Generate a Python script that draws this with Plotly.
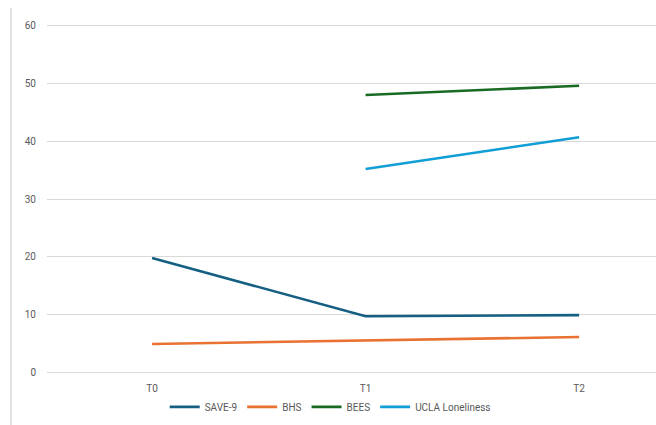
import plotly.graph_objects as go

categories = ["T0", "T1", "T2"]
cat_pos = [0, 1, 2]
save9 = [19.8, 9.7, 9.9]
bhs = [4.9, 5.5, 6.1]
bees = [None, 48.0, 49.6]
ucla = [None, 35.2, 40.7]
y_ticks = [0, 10, 20, 30, 40, 50, 60]

series = [
    ("SAVE-9", save9, "#156082"),
    ("BHS", bhs, "#E97132"),
    ("BEES", bees, "#196B24"),
    ("UCLA Loneliness", ucla, "#0F9ED5"),
]

fig = go.Figure()
for name, vals, color in series:
    fig.add_trace(go.Scatter(x=cat_pos, y=vals, name=name, mode="lines",
                             line=dict(color=color, width=2.6), connectgaps=False))

font = dict(family="Roboto, Liberation Sans, sans-serif", size=10, color="#595959")
fig.update_layout(
    width=656, height=425,
    margin=dict(l=47, r=0, t=24, b=51),
    paper_bgcolor="white", plot_bgcolor="white",
    font=font,
    showlegend=True,
    legend=dict(orientation="h", x=0.465, xanchor="center", y=-0.094, yanchor="middle",
                font=dict(size=10, color="#595959"), itemwidth=30, tracegroupgap=0),
    xaxis=dict(range=[-0.492, 2.36], tickvals=cat_pos, ticktext=categories,
               showgrid=False, zeroline=False, showline=False, ticks="outside",
               tickcolor="rgba(0,0,0,0)", ticklen=5),
    yaxis=dict(range=[-0.3, 60.3], tickvals=y_ticks, showgrid=True, gridcolor="#D9D9D9",
               gridwidth=1, zeroline=False, showline=False, ticks="outside",
               tickcolor="rgba(0,0,0,0)", ticklen=8),
    shapes=[dict(type="line", xref="paper", yref="paper",
                 x0=-36/609, x1=-36/609, y0=-51/350, y1=1 + 16/350,
                 line=dict(color="#D9D9D9", width=1.5))],
)

fig.write_html("out.html")
